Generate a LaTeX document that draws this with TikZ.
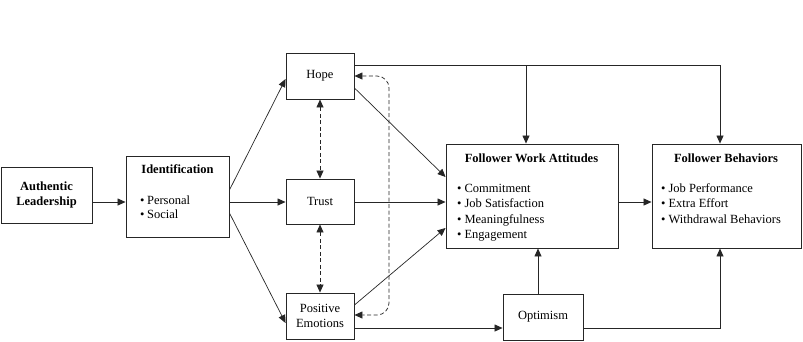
\documentclass[tikz,border=0pt]{standalone}
\usepackage{fontspec}
\setmainfont{Liberation Serif}
\usetikzlibrary{arrows.meta}
\begin{document}
\begin{tikzpicture}[x=1pt,y=-1pt,
  box/.style={draw=black!85, line width=0.9pt, rectangle, inner sep=0pt},
  ln/.style={draw=black!85, line width=0.7pt},
  arr/.style={ln, -{Triangle[length=8pt,width=7pt]}},
  darr/.style={ln, dash pattern=on 4pt off 2.5pt, {Triangle[length=8pt,width=7pt]}-{Triangle[length=8pt,width=7pt]}},
  txt/.style={font=\fontsize{12.5}{14}\selectfont, inner sep=0pt, anchor=base west},
  ctxt/.style={font=\fontsize{12.5}{15}\selectfont, align=center},
  ttl/.style={font=\fontsize{12.5}{14}\selectfont\bfseries, inner sep=0pt, anchor=base}]
\useasboundingbox (0,0) rectangle (803,341);

% boxes
\node[box, minimum width=91pt, minimum height=56pt, ctxt, font=\fontsize{12.5}{15}\selectfont\bfseries] (al) at (46.5,195) {Authentic\\Leadership};
\node[box, minimum width=103pt, minimum height=81pt] (ident) at (177.5,196.5) {};
\node[box, minimum width=68pt, minimum height=46pt, ctxt] (hope) at (320,76) {Hope};
\node[box, minimum width=68pt, minimum height=45pt, ctxt] (trust) at (320,201.5) {Trust};
\node[box, minimum width=68pt, minimum height=46pt, ctxt] (pe) at (320,316) {Positive\\Emotions};
\node[box, minimum width=172pt, minimum height=104pt] (fwa) at (532,196) {};
\node[box, minimum width=149pt, minimum height=104pt] (fb) at (726.5,196) {};
\node[box, minimum width=80pt, minimum height=46pt, ctxt] (opt) at (543,317) {Optimism};

% texts inside
\node[ttl] (identT) at (177.5,173) {Identification};
\node[txt] (id1) at (140,204) {\textbullet\hspace{2.5pt}Personal};
\node[txt] (id2) at (140,218) {\textbullet\hspace{2.5pt}Social};

\node[ttl] (fwaT) at (531.5,162) {Follower Work Attitudes};
\node[txt] (f1) at (457,192) {\textbullet\hspace{3pt}Commitment};
\node[txt] (f2) at (457,207.5) {\textbullet\hspace{3pt}Job Satisfaction};
\node[txt] (f3) at (457,223) {\textbullet\hspace{3pt}Meaningfulness};
\node[txt] (f4) at (457,238.5) {\textbullet\hspace{3pt}Engagement};

\node[ttl] (fbT) at (726,162) {Follower Behaviors};
\node[txt] (b1) at (661,192) {\textbullet\hspace{3pt}Job Performance};
\node[txt] (b2) at (661,207.5) {\textbullet\hspace{3pt}Extra Effort};
\node[txt] (b3) at (661,223) {\textbullet\hspace{3pt}Withdrawal Behaviors};

% connectors
\draw[arr] (al.east |- 0,202) -- (ident.west |- 0,202);
\draw[arr] (ident.east |- 0,190) -- (hope.west |- 0,79);
\draw[arr] (ident.east |- 0,202) -- (trust.west |- 0,202);
\draw[arr] (ident.east |- 0,213) -- (pe.west |- 0,323);

\draw[darr] (hope.south) -- (trust.north);
\draw[darr] (trust.south) -- (pe.north);
\draw[darr, rounded corners=12pt] (hope.east |- 0,76) -- (389,76) -- (389,315) -- (pe.east |- 0,315);

\draw[arr] (hope.east |- 0,88) -- (fwa.west |- 0,177);
\draw[arr] (trust.east |- 0,202) -- (fwa.west |- 0,202);
\draw[arr] (pe.east |- 0,305) -- (fwa.west |- 0,228);

\coordinate (hj) at (526,65);
\coordinate (hk) at (720,65);
\draw[arr] (hope.east |- hj) -- (hk) -- (fb.north -| hk);
\draw[arr] (hj) -- (fwa.north -| hj);

\draw[arr] (fwa.east |- 0,202) -- (fb.west |- 0,202);

\draw[arr] (pe.east |- 0,328) -- (opt.west |- 0,328);
\draw[arr] (opt.north -| 538,0) -- (fwa.south -| 538,0);
\coordinate (ok) at (720,328);
\draw[arr] (opt.east |- ok) -- (ok) -- (fb.south -| ok);
\end{tikzpicture}
\end{document}
